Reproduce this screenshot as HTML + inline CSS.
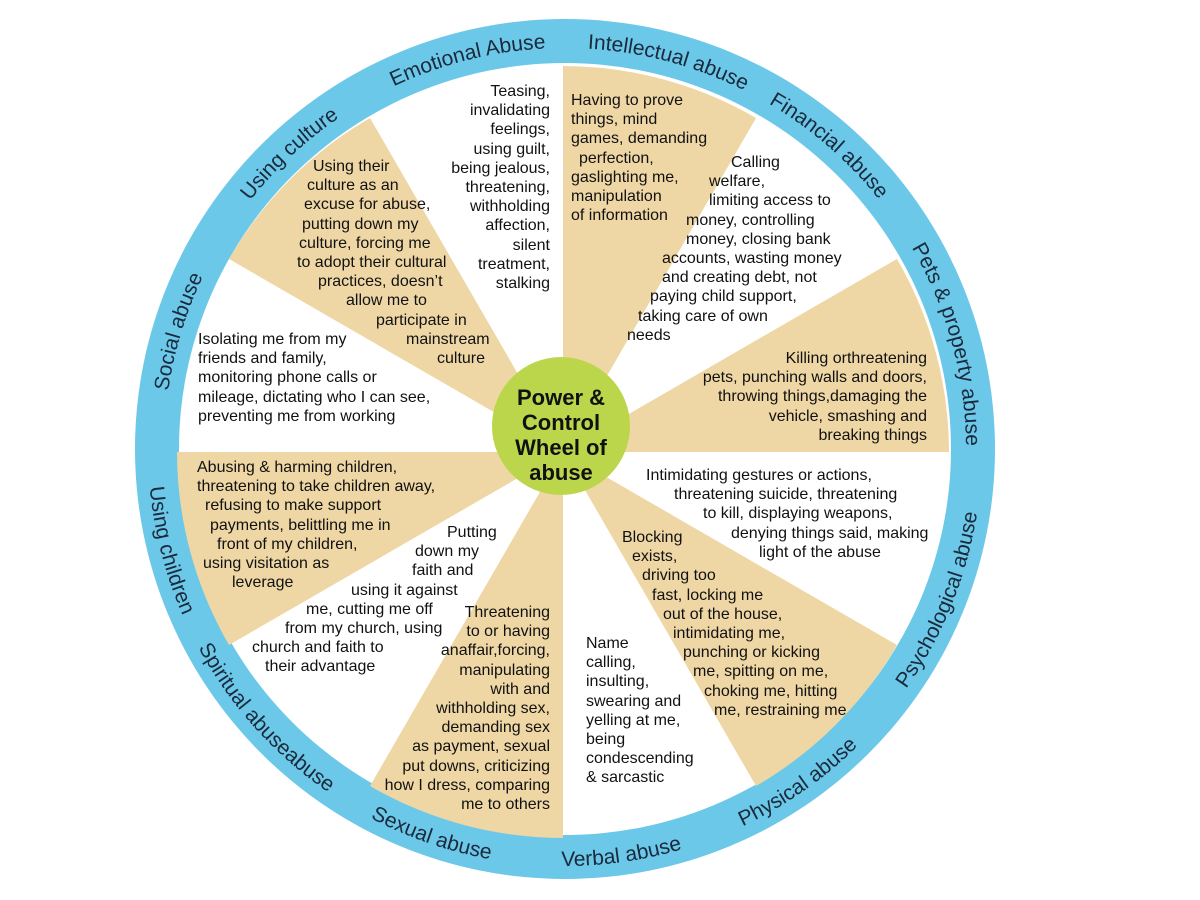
<!DOCTYPE html>
<html><head><meta charset="utf-8"><style>
html,body{margin:0;padding:0;background:#fff;}
#w{position:relative;width:1200px;height:900px;overflow:hidden;font-family:"Liberation Sans",sans-serif;}
svg{position:absolute;left:0;top:0;}
.b{position:absolute;font-size:16px;line-height:19.2px;white-space:nowrap;color:#111;}
.b div{height:19.2px;}
.r{text-align:right;}
</style></head><body><div id="w">
<svg width="1200" height="900" viewBox="0 0 1200 900">
<circle cx="565" cy="449" r="430" fill="#6cc8e8"/>
<circle cx="565" cy="449" r="386" fill="#fff"/>
<g fill="#eed7a5">
<path d="M563 452 L949 452 A386 386 0 0 0 897 259 Z"/>
<path d="M563 452 L756 118 A386 386 0 0 0 563 66 Z"/>
<path d="M563 452 L370 118 A386 386 0 0 0 229 259 Z"/>
<path d="M563 452 L177 452 A386 386 0 0 0 229 645 Z"/>
<path d="M563 452 L370 786 A386 386 0 0 0 563 838 Z"/>
<path d="M563 452 L756 786 A386 386 0 0 0 897 645 Z"/>
</g>
<circle cx="561" cy="426" r="69" fill="#bcd64c"/>
<defs>
<path id="tp" d="M164 449 A401 401 0 0 1 966 449"/>
<path id="bp" d="M148 449 A417 417 0 0 0 982 449"/>
</defs>
<g font-family="Liberation Sans, sans-serif" font-size="21" fill="#1a2a3c" text-anchor="middle">
<text><textPath href="#tp" startOffset="9.4%">Social abuse</textPath></text>
<text><textPath href="#tp" startOffset="26.1%">Using culture</textPath></text>
<text><textPath href="#tp" startOffset="42.2%">Emotional Abuse</textPath></text>
<text><textPath href="#tp" startOffset="58.3%">Intellectual abuse</textPath></text>
<text><textPath href="#tp" startOffset="72.8%">Financial abuse</textPath></text>
<text><textPath href="#tp" startOffset="91.5%">Pets &amp; property abuse</textPath></text>
<text><textPath href="#bp" startOffset="8%">Using children</textPath></text>
<text><textPath href="#bp" startOffset="23.3%">Spiritual abuseabuse</textPath></text>
<text><textPath href="#bp" startOffset="39.4%">Sexual abuse</textPath></text>
<text><textPath href="#bp" startOffset="54.4%">Verbal abuse</textPath></text>
<text><textPath href="#bp" startOffset="69.4%">Physical abuse</textPath></text>
<text><textPath href="#bp" startOffset="87.8%">Psychological abuse</textPath></text>
</g>
<g font-family="Liberation Sans, sans-serif" font-size="22" font-weight="bold" fill="#111" text-anchor="middle">
<text x="561" y="405">Power &amp;</text>
<text x="561" y="430">Control</text>
<text x="561" y="455">Wheel of</text>
<text x="561" y="480">abuse</text>
</g>
</svg>

<div class="b r" style="left:400px;width:150px;top:82px;">
<div>Teasing,</div><div>invalidating</div><div>feelings,</div><div>using guilt,</div><div>being jealous,</div><div>threatening,</div><div>withholding</div><div>affection,</div><div>silent</div><div>treatment,</div><div>stalking</div></div>

<div class="b" style="left:571px;top:91px;">
<div>Having to prove</div><div>things, mind</div><div>games, demanding</div><div style="margin-left:8px">perfection,</div><div>gaslighting me,</div><div>manipulation</div><div>of information</div></div>

<div class="b" style="left:0;top:153px;">
<div style="margin-left:731px">Calling</div><div style="margin-left:709px">welfare,</div><div style="margin-left:709px">limiting access to</div><div style="margin-left:686px">money, controlling</div><div style="margin-left:686px">money, closing bank</div><div style="margin-left:662px">accounts, wasting money</div><div style="margin-left:662px">and creating debt, not</div><div style="margin-left:650px">paying child support,</div><div style="margin-left:638px">taking care of own</div><div style="margin-left:627px">needs</div></div>

<div class="b r" style="left:700px;width:227px;top:349px;">
<div>Killing orthreatening</div><div>pets, punching walls and doors,</div><div>throwing things,damaging the</div><div>vehicle, smashing and</div><div>breaking things</div></div>

<div class="b" style="left:0;top:466px;">
<div style="margin-left:646px">Intimidating gestures or actions,</div><div style="margin-left:674px">threatening suicide, threatening</div><div style="margin-left:703px">to kill, displaying weapons,</div><div style="margin-left:731px">denying things said, making</div><div style="margin-left:759px">light of the abuse</div></div>

<div class="b" style="left:0;top:528px;">
<div style="margin-left:622px">Blocking</div><div style="margin-left:632px">exists,</div><div style="margin-left:642px">driving too</div><div style="margin-left:652px">fast, locking me</div><div style="margin-left:663px">out of the house,</div><div style="margin-left:673px">intimidating me,</div><div style="margin-left:683px">punching or kicking</div><div style="margin-left:693px">me, spitting on me,</div><div style="margin-left:704px">choking me, hitting</div><div style="margin-left:714px">me, restraining me</div></div>

<div class="b" style="left:586px;top:634px;">
<div>Name</div><div>calling,</div><div>insulting,</div><div>swearing and</div><div>yelling at me,</div><div>being</div><div>condescending</div><div>&amp; sarcastic</div></div>

<div class="b r" style="left:340px;width:210px;top:603px;">
<div>Threatening</div><div>to or having</div><div>anaffair,forcing,</div><div>manipulating</div><div>with and</div><div>withholding sex,</div><div>demanding sex</div><div>as payment, sexual</div><div>put downs, criticizing</div><div>how I dress, comparing</div><div>me to others</div></div>

<div class="b" style="left:0;top:523px;">
<div style="margin-left:447px">Putting</div><div style="margin-left:415px">down my</div><div style="margin-left:412px">faith and</div><div style="margin-left:351px">using it against</div><div style="margin-left:306px">me, cutting me off</div><div style="margin-left:285px">from my church, using</div><div style="margin-left:252px">church and faith to</div><div style="margin-left:265px">their advantage</div></div>

<div class="b" style="left:0;top:458px;">
<div style="margin-left:197px">Abusing &amp; harming children,</div><div style="margin-left:197px">threatening to take children away,</div><div style="margin-left:205px">refusing to make support</div><div style="margin-left:210px">payments, belittling me in</div><div style="margin-left:217px">front of my children,</div><div style="margin-left:203px">using visitation as</div><div style="margin-left:232px">leverage</div></div>

<div class="b" style="left:198px;top:330px;">
<div>Isolating me from my</div><div>friends and family,</div><div>monitoring phone calls or</div><div>mileage, dictating who I can see,</div><div>preventing me from working</div></div>

<div class="b" style="left:0;top:157px;">
<div style="margin-left:313px">Using their</div><div style="margin-left:307px">culture as an</div><div style="margin-left:304px">excuse for abuse,</div><div style="margin-left:302px">putting down my</div><div style="margin-left:299px">culture, forcing me</div><div style="margin-left:297px">to adopt their cultural</div><div style="margin-left:318px">practices, doesn’t</div><div style="margin-left:346px">allow me to</div><div style="margin-left:376px">participate in</div><div style="margin-left:406px">mainstream</div><div style="margin-left:437px">culture</div></div>
</div></body></html>
